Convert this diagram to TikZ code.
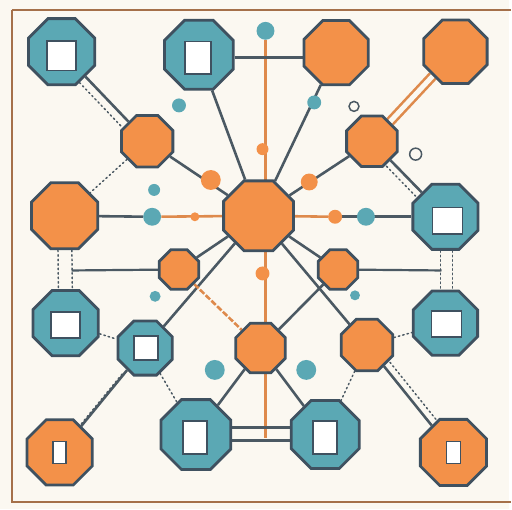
\documentclass[tikz,border=0pt]{standalone}
\usetikzlibrary{shapes.geometric,backgrounds}
\definecolor{bg}{HTML}{FBF8F1}
\definecolor{tealc}{HTML}{5BA8B4}
\definecolor{orng}{HTML}{F39149}
\definecolor{outl}{HTML}{3F5160}
\definecolor{linec}{HTML}{4B5963}
\definecolor{framec}{HTML}{A5704A}
\definecolor{oline}{HTML}{DE8A4C}
\begin{document}
\begin{tikzpicture}[x=1pt,y=-1pt,
  oct/.style={regular polygon,regular polygon sides=8,draw=outl,line width=2.8pt,inner sep=0pt},
  tnode/.style={oct,fill=tealc,minimum size=#1},
  onode/.style={oct,fill=orng,minimum size=#1},
  win/.style={draw=outl,fill=white,line width=1.5pt,inner sep=0pt},
  conn/.style={draw=linec,line width=2.6pt},
  oconn/.style={draw=oline,line width=2.6pt},
  dotl/.style={draw=linec,line width=1.5pt,dash pattern=on 1.5pt off 3pt,line cap=round},
  tdot/.style={circle,fill=tealc,inner sep=0pt,minimum size=#1},
  odot/.style={circle,fill=orng,inner sep=0pt,minimum size=#1},
  ring/.style={circle,draw=linec,line width=1.5pt,fill=bg,inner sep=0pt,minimum size=#1}
]
% nodes
\node[tnode=72] (tl) at (62,52) {};
\node[win,minimum width=29,minimum height=30] (wtl) at (62,56) {};
\node[tnode=75] (tt) at (200,55) {};
\node[win,minimum width=26,minimum height=33] (wtt) at (199,58) {};
\node[onode=70] (to) at (338,53) {};
\node[onode=69] (tr) at (458,52) {};
\node[onode=56] (oa) at (148,142) {};
\node[onode=55] (ob) at (374,142) {};
\node[onode=72] (ol) at (65,217) {};
\node[onode=76] (c) at (260,217) {};
\node[tnode=71] (tre) at (448,218) {};
\node[win,minimum width=30,minimum height=27] (wtre) at (450,222) {};
\node[onode=43] (osl) at (180,271) {};
\node[onode=43] (osr) at (340,271) {};
\node[tnode=71] (tle) at (66,325) {};
\node[win,minimum width=29,minimum height=26] (wtle) at (66,327) {};
\node[tnode=59] (ts) at (146,350) {};
\node[win,minimum width=24,minimum height=24] (wts) at (147,350) {};
\node[onode=54] (om) at (262,350) {};
\node[onode=56] (orl) at (369,347) {};
\node[tnode=70] (trl) at (448,325) {};
\node[win,minimum width=30,minimum height=26] (wtrl) at (449,326) {};
\node[onode=71] (obl) at (60,455) {};
\node[win,minimum width=13,minimum height=22] (wobl) at (60,455) {};
\node[tnode=76] (tb) at (197,437) {};
\node[win,minimum width=24,minimum height=33] (wtb) at (196,440) {};
\node[tnode=74] (tbr) at (327,437) {};
\node[win,minimum width=24,minimum height=33] (wtbr) at (327,440) {};
\node[onode=72] (obr) at (456,455) {};
\node[win,minimum width=14,minimum height=22] (wobr) at (456,455) {};
% small dots
\node[tdot=18] (d1) at (267,31) {};
\node[tdot=14] (d2) at (180,106) {};
\node[tdot=14] (d3) at (316,103) {};
\node[ring=10] (d4) at (356,107) {};
\node[odot=20] (d5) at (212,181) {};
\node[odot=17] (d6) at (311,183) {};
\node[tdot=12] (d7) at (155,191) {};
\node[tdot=18] (d8) at (153,218) {};
\node[odot=9] (d9) at (196,218) {};
\node[odot=14] (d10) at (337,218) {};
\node[tdot=18] (d11) at (368,218) {};
\node[ring=12] (d12) at (418,155) {};
\node[odot=12] (d13) at (264,150) {};
\node[odot=14] (d14) at (264,275) {};
\node[tdot=11] (d15) at (156,298) {};
\node[tdot=20] (d16) at (216,372) {};
\node[tdot=20] (d17) at (308,372) {};
\node[tdot=10] (d18) at (357,297) {};
\coordinate (jl) at (72,272);
\coordinate (jr) at (444,272);
\coordinate (vb) at (267,440);
\begin{pgfonlayer}{background}
\fill[bg] (0,0) rectangle (512,512);
\draw[framec,line width=1.8pt] (12,10) -- (514,10) (12,10) -- (12,505) -- (514,505);
% connectors
\draw[oconn] (d1) -- (vb);
\draw[conn] (tl) -- (oa);
\draw[dotl,transform canvas={xshift=-6pt,yshift=-6pt}] (tl) -- (oa);
\draw[dotl] (oa) -- (ol);
\draw[conn] (tt.east |- 0,58) -- (to.west |- 0,58);
\draw[conn] (tt) -- (c);
\draw[conn] (to) -- (c);
\draw[oconn,double=bg,double distance=5pt,line width=2.6pt] (tr) -- (ob);
\draw[conn] (oa) -- (c);
\draw[conn] (ob) -- (c);
\draw[conn] (ob) -- (tre);
\draw[dotl,transform canvas={xshift=-4pt,yshift=-6pt}] (ob) -- (tre);
\draw[conn] (ol) -- (d8);
\draw[oconn] (d8) -- (c);
\draw[oconn] (c) -- (d10);
\draw[conn] (d10) -- (tre);
\draw[dotl,transform canvas={xshift=-7pt}] (ol) -- (tle);
\draw[dotl,transform canvas={xshift=7pt}] (ol) -- (tle);
\draw[dotl,transform canvas={xshift=-5pt}] (tre) -- (trl);
\draw[dotl,transform canvas={xshift=7pt}] (tre) -- (trl);
\draw[conn,line width=2.2pt] (jl) -- (osl);
\draw[conn,line width=2.2pt] (osr) -- (jr);
\draw[conn] (c) -- (osl);
\draw[conn] (c) -- (osr);
\draw[conn] (c) -- (ts);
\draw[conn] (c) -- (orl);
\draw[oconn,dash pattern=on 6pt off 2pt] (osl) -- (om);
\draw[conn] (osr) -- (om);
\draw[conn] (ts) -- (obl);
\draw[dotl,transform canvas={xshift=-5pt,yshift=-4pt}] (ts) -- (obl);
\draw[dotl] (ts) -- (tb);
\draw[conn] (om) -- (tb);
\draw[conn] (om) -- (tbr);
\draw[conn,line width=2.2pt,transform canvas={yshift=-6pt}] (tb) -- (tbr);
\draw[conn,line width=2.2pt,transform canvas={yshift=7pt}] (tb) -- (tbr);
\draw[conn] (orl) -- (obr);
\draw[dotl,transform canvas={xshift=6pt,yshift=4pt}] (orl) -- (obr);
\draw[dotl] (orl) -- (tbr);
\draw[dotl] (orl) -- (trl);
\draw[dotl] (tle) -- (ts);
\end{pgfonlayer}
\end{tikzpicture}
\end{document}
